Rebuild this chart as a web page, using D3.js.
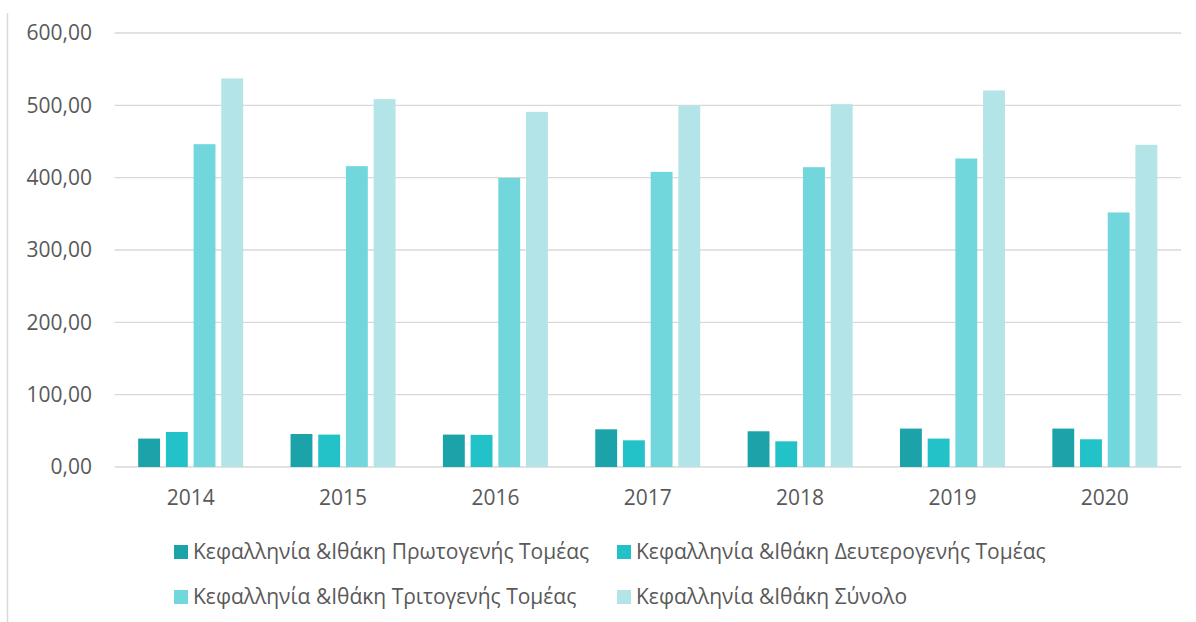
<!DOCTYPE html>
<html>
<head>
<meta charset="utf-8">
<script src="https://cdn.jsdelivr.net/npm/d3@7"></script>
<style>
  html, body { margin: 0; padding: 0; background: #fff; }
  text { font-family: "Open Sans", "Noto Sans", sans-serif; fill: #595959; }
</style>
</head>
<body>
<div id="chart"></div>
<script>
const years = ["2014", "2015", "2016", "2017", "2018", "2019", "2020"];
const seriesNames = [
  "Κεφαλληνία &Ιθάκη Πρωτογενής Τομέας",
  "Κεφαλληνία &Ιθάκη Δευτερογενής Τομέας",
  "Κεφαλληνία &Ιθάκη Τριτογενής Τομέας",
  "Κεφαλληνία &Ιθάκη Σύνολο"
];
const primary   = [39.3, 45.6, 44.8, 52.1, 49.4, 53.1, 53.1];
const secondary = [48.4, 44.8, 44.4, 36.9, 35.5, 39.3, 38.3];
const tertiary  = [446.3, 415.9, 399.7, 408.0, 414.5, 426.5, 351.9];
const total     = [537.2, 508.6, 491.0, 499.8, 501.6, 520.6, 445.4];
const yTicks = [0, 100, 200, 300, 400, 500, 600];
const colors = ["#1ca3a9", "#23c1c8", "#71d7dd", "#b2e4e8"];

const seriesValues = [primary, secondary, tertiary, total];

const width = 1196;
const height = 622;
const margin = {top: 33, right: 15, bottom: 155, left: 114.5};
const FONT = "21px";

const svg = d3.select("#chart")
    .append("svg")
    .attr("width", width)
    .attr("height", height);

// left border of the chart frame
svg.append("line")
    .attr("x1", 7.5).attr("x2", 7.5)
    .attr("y1", 13).attr("y2", height)
    .attr("stroke", "#d9d9d9")
    .attr("stroke-width", 1.5);

const x0 = d3.scaleBand()
    .domain(years)
    .range([margin.left, width - margin.right])
    .paddingInner(0.311)
    .paddingOuter(0.1555);

const x1 = d3.scaleBand()
    .domain(d3.range(seriesNames.length))
    .range([0, x0.bandwidth()])
    .paddingInner(0.21);

const y = d3.scaleLinear()
    .domain([0, 600])
    .range([height - margin.bottom, margin.top]);

// gridlines
svg.append("g")
    .selectAll("line")
    .data(yTicks)
    .join("line")
    .attr("x1", margin.left)
    .attr("x2", width - margin.right)
    .attr("y1", d => y(d))
    .attr("y2", d => y(d))
    .attr("stroke", "#d9d9d9")
    .attr("stroke-width", 1.3);

// y tick labels
const fmt = d => d3.format(".2f")(d).replace(".", ",");
svg.append("g")
    .selectAll("text")
    .data(yTicks)
    .join("text")
    .attr("x", 92)
    .attr("y", d => y(d))
    .attr("dy", "0.35em")
    .attr("text-anchor", "end")
    .attr("font-size", FONT)
    .text(fmt);

// bars
const groups = svg.append("g")
    .selectAll("g")
    .data(years)
    .join("g")
    .attr("transform", d => `translate(${x0(d)},0)`);

groups.selectAll("rect")
    .data((d, i) => seriesValues.map((vals, s) => ({s, v: vals[i]})))
    .join("rect")
    .attr("x", d => x1(d.s))
    .attr("width", x1.bandwidth())
    .attr("y", d => y(d.v))
    .attr("height", d => y(0) - y(d.v))
    .attr("fill", d => colors[d.s]);

// x labels
svg.append("g")
    .selectAll("text")
    .data(years)
    .join("text")
    .attr("x", d => x0(d) + x0.bandwidth() / 2)
    .attr("y", 498)
    .attr("dy", "0.35em")
    .attr("text-anchor", "middle")
    .attr("font-size", FONT)
    .text(d => d);

// legend
const legendPos = [[174, 552], [617, 552], [174, 597], [617, 597]];
const legend = svg.append("g")
    .selectAll("g")
    .data(seriesNames)
    .join("g")
    .attr("transform", (d, i) => `translate(${legendPos[i][0]},${legendPos[i][1]})`);

legend.append("rect")
    .attr("x", 0)
    .attr("y", -7)
    .attr("width", 14)
    .attr("height", 14)
    .attr("fill", (d, i) => colors[i]);

legend.append("text")
    .attr("x", 19)
    .attr("y", 0)
    .attr("dy", "0.35em")
    .attr("font-size", FONT)
    .text(d => d);
</script>
</body>
</html>
